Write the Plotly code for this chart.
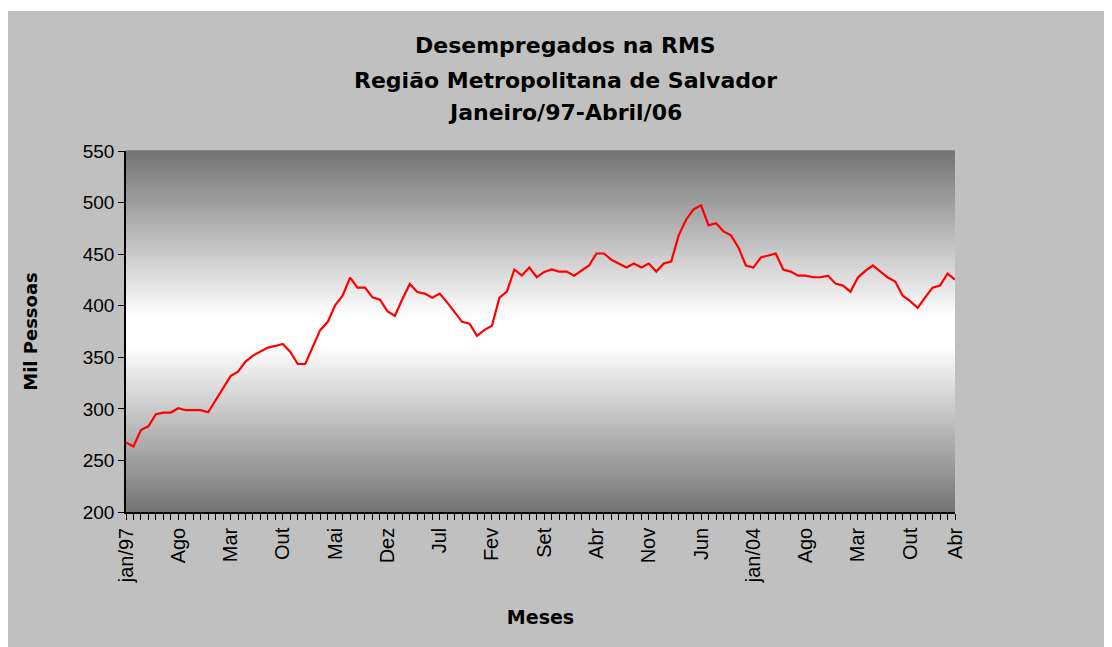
import plotly.graph_objects as go

# Unemployed (thousand people), monthly Jan/1997 .. Apr/2006
valores = [
    267.5, 263.6, 279.5, 283.1, 294.8, 296.4, 296.4, 300.6, 298.7, 298.7, 298.7, 296.7,
    308.7, 320.8, 331.8, 336.0, 345.8, 351.6, 355.5, 359.4, 361.0, 363.0, 355.2, 343.5,
    343.5, 359.4, 376.3, 384.1, 400.3, 409.7, 427.3, 417.5, 417.5, 408.1, 405.8, 394.8,
    390.2, 406.2, 421.1, 413.3, 411.7, 407.8, 411.7, 403.2, 393.8, 384.4, 382.5, 370.8,
    376.6, 380.5, 407.8, 413.6, 435.1, 429.2, 437.0, 427.6, 432.8, 435.1, 433.1, 433.1,
    429.2, 434.1, 439.0, 450.6, 450.6, 444.5, 440.9, 437.0, 440.9, 437.0, 440.9, 433.1,
    440.9, 442.8, 468.2, 483.4, 493.5, 497.4, 477.9, 479.9, 472.1, 468.2, 456.5, 439.0,
    437.0, 446.7, 448.7, 450.6, 435.1, 433.1, 429.2, 429.2, 427.6, 427.6, 429.2, 421.4,
    419.5, 413.6, 427.3, 433.8, 439.0, 433.1, 427.3, 423.4, 409.7, 404.5, 398.0, 408.1,
    417.5, 419.5, 431.2, 425.3,
]
meses = list(range(len(valores)))

tick_pos = [0, 7, 14, 21, 28, 35, 42, 49, 56, 63, 70, 77, 84, 91, 98, 105, 111]
tick_lab = ["jan/97", "Ago", "Mar", "Out", "Mai", "Dez", "Jul", "Fev", "Set",
            "Abr", "Nov", "Jun", "jan/04", "Ago", "Mar", "Out", "Abr"]

all_ticks = meses
all_text = [tick_lab[tick_pos.index(m)] if m in tick_pos else "" for m in meses]

titulos = ["Desempregados na RMS", "Região Metropolitana de Salvador", "Janeiro/97-Abril/06"]

FONT = "Liberation Sans"
TFONT = "DejaVu Sans"

# page is offset by the 8px body margin: figure spans x 8..1112, y 8..647
OX, OY = 8, 8
L, R, T, B = 126, 955, 151, 512  # plot area in page pixels
PW, PH = R - L, B - T

fig = go.Figure()
fig.add_trace(go.Scatter(x=meses, y=valores, mode="lines",
                         line=dict(color="#ff0000", width=2.2), showlegend=False,
                         hoverinfo="x+y"))

shapes = []
# page grey background (white strip on top)
shapes.append(dict(type="rect", xref="paper", yref="paper",
                   x0=(OX - L) / PW - 0.01, x1=(1112 - L) / PW + 0.01,
                   y0=(B - 660) / PH, y1=(B - 11) / PH,
                   fillcolor="#c0c0c0", line=dict(width=0), layer="below"))
# vertical gradient of plot area: dark at edges, white at centre
N = 120
dark = 115
for k in range(N):
    t0 = k / N
    t1 = (k + 1) / N
    tm = (t0 + t1) / 2
    d = abs(tm - 0.5) / 0.5
    d = max(0.0, (d - 0.08) / 0.92)
    v = int(round(255 - (255 - dark) * d))
    c = f"rgb({v},{v},{v})"
    shapes.append(dict(type="rect", xref="x domain", yref="y domain",
                       x0=0, x1=1, y0=t0, y1=t1 + 0.002,
                       fillcolor=c, line=dict(width=0), layer="below"))

annotations = []
for t, ypix in zip(titulos, [46, 80, 113]):
    annotations.append(dict(text=f"<b>{t}</b>", xref="paper", yref="paper",
                            x=(565 - L) / PW, y=(B - ypix) / PH,
                            showarrow=False, xanchor="center", yanchor="middle",
                            font=dict(family=TFONT, size=22, color="#000000")))

fig.update_layout(
    width=1112 - OX, height=647 - OY,
    margin=dict(l=L - OX, r=1112 - R, t=T - OY, b=647 - B),
    paper_bgcolor="#ffffff",
    plot_bgcolor="#c0c0c0",
    shapes=shapes,
    annotations=annotations,
    font=dict(family=FONT, size=19, color="#000000"),
    xaxis=dict(
        range=[0, 111], tickmode="array", tickvals=all_ticks, ticktext=all_text,
        tickangle=-90, ticks="outside", ticklen=6, tickcolor="#000000", tickwidth=1,
        showline=True, linecolor="#000000", linewidth=1.5, showgrid=False, zeroline=False,
        tickfont=dict(family=FONT, size=20),
        title=dict(text="<b>Meses</b>", font=dict(family=TFONT, size=19), standoff=28),
        fixedrange=True,
    ),
    yaxis=dict(
        range=[200, 550], tickmode="array", tickvals=[200, 250, 300, 350, 400, 450, 500, 550],
        ticks="outside", ticklen=6, tickcolor="#000000", tickwidth=1,
        showline=True, linecolor="#000000", linewidth=1.5, showgrid=False, zeroline=False,
        tickfont=dict(family=FONT, size=19),
        title=dict(text="<b>Mil Pessoas</b>", font=dict(family=TFONT, size=18), standoff=40),
        fixedrange=True,
    ),
)

fig.write_html("out.html")
